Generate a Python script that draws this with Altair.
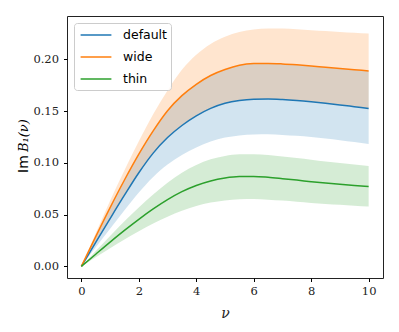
import altair as alt
import pandas as pd

nu = [0, 0.5, 1, 1.5, 2, 2.5, 3, 3.5, 4, 4.5, 5, 5.5, 6, 6.5, 7, 7.5, 8, 8.5, 9, 9.5, 10]

series_names = ["default", "wide", "thin"]
series_colors = ["#1f77b4", "#ff7f0e", "#2ca02c"]

default_mid = [0, 0.0232, 0.0462, 0.0688, 0.0905, 0.1095, 0.1245, 0.1362, 0.1455, 0.1527, 0.1576,
               0.1603, 0.1615, 0.1617, 0.1612, 0.1603, 0.1591, 0.1577, 0.1561, 0.1544, 0.1527]
default_lo = [0, 0.0184, 0.0365, 0.0543, 0.0715, 0.0865, 0.0984, 0.1076, 0.1150, 0.1206, 0.1245,
              0.1266, 0.1276, 0.1277, 0.1271, 0.1262, 0.1250, 0.1236, 0.1220, 0.1202, 0.1183]
default_hi = [0, 0.0287, 0.0566, 0.0833, 0.1083, 0.1308, 0.1503, 0.1648, 0.1758, 0.1843, 0.1901,
              0.1942, 0.1958, 0.1960, 0.1955, 0.1946, 0.1935, 0.1923, 0.1911, 0.1899, 0.1887]

wide_mid = [0, 0.0288, 0.0568, 0.0835, 0.1085, 0.1310, 0.1505, 0.1650, 0.1760, 0.1845, 0.1903,
            0.1944, 0.1960, 0.1962, 0.1957, 0.1948, 0.1937, 0.1925, 0.1913, 0.1901, 0.1889]
wide_lo = [0, 0.0233, 0.0463, 0.0689, 0.0906, 0.1096, 0.1246, 0.1363, 0.1456, 0.1528, 0.1577,
           0.1604, 0.1616, 0.1618, 0.1613, 0.1604, 0.1592, 0.1578, 0.1562, 0.1545, 0.1528]
wide_hi = [0, 0.0320, 0.0635, 0.0930, 0.1210, 0.1470, 0.1700, 0.1900, 0.2045, 0.2150, 0.2220,
           0.2265, 0.2290, 0.2300, 0.2298, 0.2292, 0.2283, 0.2274, 0.2266, 0.2258, 0.2250]

thin_mid = [0, 0.0118, 0.0235, 0.0348, 0.0455, 0.0555, 0.0645, 0.0722, 0.0782, 0.0826, 0.0854,
            0.0868, 0.0869, 0.0861, 0.0848, 0.0834, 0.0819, 0.0805, 0.0793, 0.0782, 0.0772]
thin_lo = [0, 0.0088, 0.0175, 0.0260, 0.0340, 0.0414, 0.0481, 0.0539, 0.0584, 0.0617, 0.0638,
           0.0650, 0.0651, 0.0645, 0.0636, 0.0626, 0.0614, 0.0604, 0.0595, 0.0587, 0.0579]
thin_hi = [0, 0.0148, 0.0295, 0.0436, 0.0570, 0.0695, 0.0808, 0.0905, 0.0980, 0.1035, 0.1068,
           0.1084, 0.1085, 0.1076, 0.1062, 0.1047, 0.1031, 0.1014, 0.0999, 0.0985, 0.0971]

x_ticks = [0, 2, 4, 6, 8, 10]
y_ticks = [0.0, 0.05, 0.10, 0.15, 0.20]

rows = []
for name, mid, lo, hi in [("default", default_mid, default_lo, default_hi),
                          ("wide", wide_mid, wide_lo, wide_hi),
                          ("thin", thin_mid, thin_lo, thin_hi)]:
    for i, v in enumerate(nu):
        rows.append({"nu": v, "val": mid[i], "lo": lo[i], "hi": hi[i], "series": name})
df = pd.DataFrame(rows)

SERIF = "'DejaVu Serif', 'Liberation Serif', serif"

xscale = alt.Scale(domain=[-0.5, 10.5], nice=False, zero=False)
yscale = alt.Scale(domain=[-0.0112, 0.242], nice=False, zero=False)

x_axis = alt.Axis(values=x_ticks, format="d", labelFont=SERIF, labelFontSize=11.5,
                  labelColor="#222", tickColor="#000", tickSize=3.5, labelPadding=4,
                  domain=False, grid=False, title="ν", titleFont=SERIF,
                  titleFontStyle="italic", titleFontWeight="normal", titleFontSize=14,
                  titleColor="#222", titlePadding=9)
y_axis = alt.Axis(values=y_ticks, format=".2f", labelFont=SERIF, labelFontSize=11.5,
                  labelColor="#222", tickColor="#000", tickSize=3.5, labelPadding=5,
                  domain=False, grid=False, title=None)

base = alt.Chart(df)

band_layers = []
for name, col in zip(series_names, series_colors):
    band_layers.append(
        base.transform_filter(alt.datum.series == name)
        .mark_area(opacity=0.2, interpolate="monotone", color=col)
        .encode(
            x=alt.X("nu:Q", scale=xscale, axis=x_axis),
            y=alt.Y("lo:Q", scale=yscale, axis=y_axis),
            y2="hi:Q",
        )
    )

lines = base.mark_line(strokeWidth=1.5, interpolate="monotone").encode(
    x=alt.X("nu:Q", scale=xscale, axis=x_axis),
    y=alt.Y("val:Q", scale=yscale, axis=y_axis),
    color=alt.Color("series:N", scale=alt.Scale(domain=series_names, range=series_colors),
                    sort=series_names,
                    legend=alt.Legend(title=None, orient="top-left", offset=7, padding=4,
                                      symbolType="M-2.2,0H2.2", symbolSize=196,
                                      symbolStrokeWidth=1.5, symbolOffset=10, labelOffset=19,
                                      labelFont="DejaVu Sans", labelFontSize=12.5,
                                      labelColor="#000", rowPadding=7,
                                      strokeColor="#cccccc", fillColor="rgba(255,255,255,0.8)",
                                      cornerRadius=3)),
)

ytitle_im = alt.Chart(pd.DataFrame({"t": ["Im"]})).mark_text(
    angle=270, align="left", baseline="alphabetic", font="DejaVu Sans", fontSize=14, color="#000"
).encode(text="t:N", x=alt.value(-39), y=alt.value(157))

ytitle_b = alt.Chart(pd.DataFrame({"t": ["B₁(ν)"]})).mark_text(
    angle=270, align="left", baseline="alphabetic", font=SERIF, fontStyle="italic",
    fontSize=13, color="#000"
).encode(text="t:N", x=alt.value(-39), y=alt.value(136))

chart = alt.layer(*band_layers, lines, ytitle_im, ytitle_b).properties(
    width=316, height=262, autosize="none",
    padding={"left": 59, "top": 8, "right": 8, "bottom": 46},
).configure_view(stroke="#222", strokeWidth=1)

chart.save("out.html", embed_options={"renderer": "svg", "actions": False})
